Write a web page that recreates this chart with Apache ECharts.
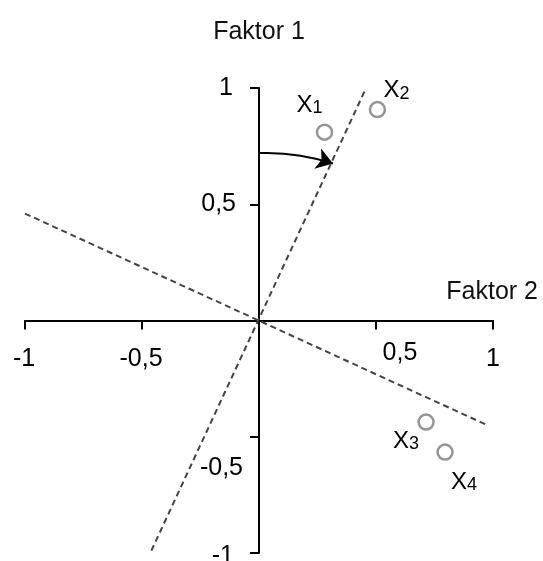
<!DOCTYPE html>
<html>
<head>
<meta charset="utf-8">
<script src="https://cdn.jsdelivr.net/npm/echarts@6/dist/echarts.min.js"></script>
<style>html,body{margin:0;padding:0;background:#fff;}#c{width:543px;height:561px;}</style>
</head>
<body>
<div id="c"></div>
<script>
// ---- data ----
const pointNames = ['X', 'X', 'X', 'X'];
const pointSubs = ['1', '2', '3', '4'];
const pointX = [0.28, 0.506, 0.714, 0.795];
const pointY = [0.81, 0.907, -0.437, -0.566];
const rotAxisA_x = [-0.46, 0.453];
const rotAxisA_y = [-0.99, 0.99];
const rotAxisB_x = [-1.0, 0.975];
const rotAxisB_y = [0.46, -0.45];
const arrowX = [0, 0.316];
const arrowY = [0.72, 0.675];
const xTickValues = [-1, -0.5, 0.5, 1];
const xTickLabels = ['-1', '-0,5', '0,5', '1'];
const yTickValues = [-1, -0.5, 0.5, 1];
const yTickLabels = ['-1', '-0,5', '0,5', '1'];
const xAxisName = 'Faktor 2';
const yAxisName = 'Faktor 1';

// ---- styling ----
const FONT = '"Liberation Sans", Arial, sans-serif';
const TXT = '#000';
const labelOffsets = [[-15, -27], [19, -19], [-20, 19], [19, 30]];
const xTickLabelOffsets = [[-1, 39], [-1, 39], [24, 33], [0, 39]];
const yTickLabelOffsets = [[-25, 3], [-16, 31], [-23, 0], [-26, 0]];

const chart = echarts.init(document.getElementById('c'));

const pointData = pointX.map((x, i) => ({
  value: [x, pointY[i]],
  label: {
    show: true,
    position: 'inside',
    offset: labelOffsets[i],
    color: TXT, textBorderWidth: 0, opacity: 1,
    formatter: '{x|' + pointNames[i] + '}{s|' + pointSubs[i] + '}',
    rich: {
      x: { fontSize: 24, fontFamily: FONT, color: TXT, textBorderWidth: 0, verticalAlign: 'top', lineHeight: 24 },
      s: { fontSize: 18, fontFamily: FONT, color: TXT, textBorderWidth: 0, verticalAlign: 'bottom', lineHeight: 20, padding: [12, 0, 0, 0] }
    }
  }
}));

const xTickData = xTickValues.map((v, i) => ({
  value: [v, 0],
  label: { show: true, position: 'inside', offset: xTickLabelOffsets[i], formatter: xTickLabels[i], opacity: 1,
           align: 'center', verticalAlign: 'middle', fontSize: 25, fontFamily: FONT, color: TXT, textBorderWidth: 0 }
}));
const yTickData = yTickValues.map((v, i) => ({
  value: [0, v],
  label: { show: true, position: 'inside', offset: yTickLabelOffsets[i], formatter: yTickLabels[i], opacity: 1,
           align: 'right', verticalAlign: 'middle', fontSize: 25, fontFamily: FONT, color: TXT, textBorderWidth: 0 }
}));

chart.setOption({
  animation: false,
  backgroundColor: '#fff',
  grid: { left: 25, right: 50, top: 88, bottom: 8, containLabel: false, outerBoundsMode: 'none' },
  xAxis: {
    type: 'value', min: -1, max: 1, interval: 0.5,
    name: xAxisName, nameLocation: 'end', nameGap: 45,
    nameTextStyle: { fontSize: 25, fontFamily: FONT, color: '#111', align: 'right', verticalAlign: 'bottom', padding: [0, 0, 16, 0] },
    axisLine: { onZero: true, lineStyle: { color: '#000', width: 2 } },
    axisTick: { show: true, length: 9, lineStyle: { color: '#000', width: 2 } },
    splitLine: { show: false },
    axisLabel: { show: false }
  },
  yAxis: {
    type: 'value', min: -1, max: 1, interval: 0.5,
    name: yAxisName, nameLocation: 'end', nameGap: 43,
    nameTextStyle: { fontSize: 25, fontFamily: FONT, color: '#111', align: 'center' },
    axisLine: { onZero: true, lineStyle: { color: '#000', width: 2 } },
    axisTick: { show: true, length: 9, lineStyle: { color: '#000', width: 2 } },
    splitLine: { show: false },
    axisLabel: { show: false }
  },
  series: [
    {
      type: 'line', data: rotAxisA_x.map((x, i) => [x, rotAxisA_y[i]]),
      symbol: 'none', lineStyle: { color: '#444', width: 2, type: [6, 4] }, silent: true
    },
    {
      type: 'line', data: rotAxisB_x.map((x, i) => [x, rotAxisB_y[i]]),
      symbol: 'none', lineStyle: { color: '#444', width: 2, type: [6, 4] }, silent: true
    },
    {
      type: 'lines', coordinateSystem: 'cartesian2d',
      symbol: ['none', 'arrow'], symbolSize: 16,
      lineStyle: { color: '#000', width: 2, curveness: 0.09, opacity: 1 },
      data: [{ coords: [[arrowX[0], arrowY[0]], [arrowX[1], arrowY[1]]] }],
      silent: true
    },
    {
      type: 'scatter', symbol: 'circle', symbolSize: 15,
      itemStyle: { color: '#fff', borderColor: '#7a7a7a', borderWidth: 2.5 },
      data: pointData, z: 5
    },
    {
      type: 'scatter', symbol: 'circle', symbolSize: 1, clip: false, silent: true,
      itemStyle: { color: 'rgba(0,0,0,0)' },
      data: xTickData.concat(yTickData), z: 6
    }
  ]
});
</script>
</body>
</html>
